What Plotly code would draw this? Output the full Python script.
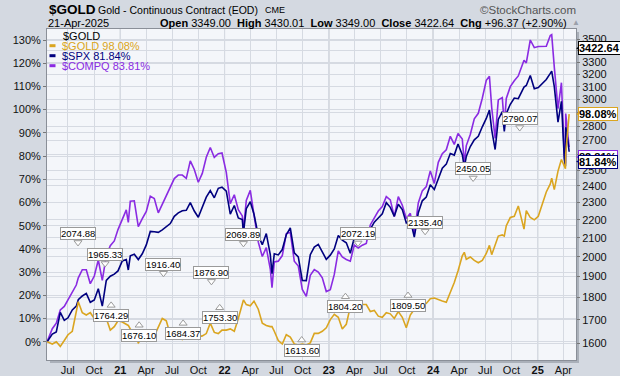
import math
import plotly.graph_objects as go

# ---------------- data (percent change since start) ----------------
dates = [
    "2020-04-20", "2020-05-08", "2020-05-22", "2020-06-05", "2020-06-19", "2020-07-02", "2020-07-17",
    "2020-07-31", "2020-08-07", "2020-08-21", "2020-09-04", "2020-09-18", "2020-10-02", "2020-10-16",
    "2020-10-30", "2020-11-13", "2020-11-27", "2020-12-11", "2020-12-24",
    "2021-01-08", "2021-01-22", "2021-01-29", "2021-02-05", "2021-02-19", "2021-03-05", "2021-03-19",
    "2021-04-02", "2021-04-16", "2021-04-30", "2021-05-14", "2021-05-28", "2021-06-11", "2021-06-25",
    "2021-07-09", "2021-07-23", "2021-08-06", "2021-08-20", "2021-09-03", "2021-09-17", "2021-10-01",
    "2021-10-15", "2021-10-29", "2021-11-12", "2021-11-26", "2021-12-10", "2021-12-23",
    "2022-01-07", "2022-01-21", "2022-02-04", "2022-02-18", "2022-03-04", "2022-03-08", "2022-03-18",
    "2022-04-01", "2022-04-14", "2022-04-29", "2022-05-13", "2022-05-27", "2022-06-10", "2022-06-16",
    "2022-06-24", "2022-07-08", "2022-07-22", "2022-08-05", "2022-08-19", "2022-09-02", "2022-09-16",
    "2022-09-30", "2022-10-14", "2022-10-28", "2022-11-11", "2022-11-25", "2022-12-09", "2022-12-23",
    "2023-01-06", "2023-01-20", "2023-02-03", "2023-02-17", "2023-03-03", "2023-03-17", "2023-03-31",
    "2023-04-14", "2023-04-28", "2023-05-12", "2023-05-26", "2023-06-09", "2023-06-23", "2023-07-07",
    "2023-07-21", "2023-08-04", "2023-08-18", "2023-09-01", "2023-09-15", "2023-09-29", "2023-10-13",
    "2023-10-27", "2023-11-10", "2023-11-24", "2023-12-08", "2023-12-22",
    "2024-01-05", "2024-01-19", "2024-02-02", "2024-02-16", "2024-03-01", "2024-03-15", "2024-03-28",
    "2024-04-12", "2024-04-19", "2024-04-26", "2024-05-10", "2024-05-24", "2024-06-07", "2024-06-21",
    "2024-07-05", "2024-07-16", "2024-07-24", "2024-08-05", "2024-08-16", "2024-08-30", "2024-09-06",
    "2024-09-13", "2024-09-27", "2024-10-11", "2024-10-25", "2024-11-14", "2024-11-22", "2024-12-06",
    "2024-12-20",
    "2025-01-03", "2025-01-17", "2025-01-31", "2025-02-14", "2025-02-19", "2025-02-28", "2025-03-13",
    "2025-03-25", "2025-04-04", "2025-04-08", "2025-04-09", "2025-04-17", "2025-04-21",
]

gold_pct = [
    0, -1.0, 0.0, -2.0, 0.5, 3.0, 4.5, 13.0, 17.2, 12.5, 11.5, 12.5, 10.0, 10.5, 9.0, 10.0, 5.0, 6.5, 9.0,
    8.5, 7.5, 7.0, 5.5, 3.5, -0.5, 1.5, 0.5, 2.5, 2.5, 6.5, 10.0, 9.0, 3.0, 4.5, 4.5, 1.0, 3.0, 5.5, 2.0,
    2.0, 2.5, 3.5, 8.0, 4.0, 3.5, 5.0,
    5.0, 5.5, 4.5, 10.0, 15.5, 18.0, 16.0, 15.5, 17.5, 14.0, 8.0, 7.0, 6.5, 6.5, 4.5, 0.5, -1.0, 3.0,
    2.0, -1.0, -1.4, -1.0, -1.4, -0.5, 3.6, 3.6, 4.5, 6.0,
    9.5, 11.8, 10.5, 5.5, 7.5, 15.0, 16.5, 16.5, 16.0, 16.0, 13.0, 13.5, 11.0, 10.5, 12.5, 12.0, 10.0,
    13.0, 10.5, 6.0, 11.5, 14.0, 13.5, 17.0, 16.5, 18.5,
    18.8, 18.0, 17.5, 17.0, 21.0, 25.5, 30.5, 37.0, 38.5, 35.5, 36.5, 35.0, 34.0, 35.0, 38.0, 41.5,
    37.5, 42.0, 45.5, 46.0, 45.5, 50.0, 53.5, 54.0, 58.5, 48.5, 56.5, 53.5, 52.5,
    54.0, 59.0, 64.5, 68.0, 70.5, 65.5, 73.5, 78.5, 75.5, 74.5, 81.0, 92.5, 98.08,
]

spx_pct = [
    0, 3.3, 4.2, 12.6, 9.2, 10.3, 13.7, 15.3, 18.1, 19.7, 20.8, 17.0, 18.0, 22.8, 15.3, 26.4, 28.2, 29.1, 30.5,
    34.8, 35.4, 30.9, 37.0, 37.7, 35.4, 37.9, 41.7, 47.5, 47.4, 47.1, 48.2, 49.7, 50.9, 54.0, 55.5, 56.4,
    56.6, 59.9, 56.3, 53.6, 57.6, 62.3, 65.1, 62.0, 66.1, 66.6,
    64.9, 55.0, 58.7, 53.3, 52.6, 47.0, 57.3, 60.3, 54.9, 45.7, 41.8, 46.6, 37.5, 29.3, 37.9, 37.4, 39.7,
    46.1, 49.0, 38.3, 36.5, 26.4, 26.3, 37.5, 40.8, 41.9, 38.7, 35.5,
    37.3, 40.0, 45.8, 43.8, 42.6, 38.1, 44.8, 45.9, 47.0, 45.4, 48.2, 51.5, 53.3, 55.1, 59.9, 57.9, 54.0,
    59.2, 56.9, 51.2, 52.5, 45.1, 55.6, 60.7, 62.3, 67.6,
    65.6, 70.6, 74.8, 76.5, 81.1, 80.4, 85.2, 80.6, 75.1, 79.8, 84.1, 87.0, 88.5, 92.6, 96.2, 99.8, 91.3,
    82.8, 95.8, 99.1, 90.6, 98.3, 102.3, 105.0, 104.7, 109.7, 110.4, 114.7, 109.0,
    109.5, 111.4, 113.0, 115.6, 116.6, 109.9, 94.6, 103.6, 78.9, 75.6, 92.4, 86.2, 81.84,
]

compq_pct = [
    0, 5.6, 8.0, 13.7, 15.2, 18.2, 21.6, 24.4, 27.5, 31.0, 31.0, 25.0, 28.3, 35.2, 26.4, 37.0, 41.4, 43.4, 48.3,
    52.9, 56.8, 51.4, 60.5, 60.7, 49.6, 53.0, 56.1, 62.7, 61.7, 55.5, 59.2, 62.9, 66.3, 70.3, 71.8, 71.8,
    70.4, 77.9, 74.2, 68.7, 72.5, 79.5, 83.7, 79.4, 81.0, 81.3,
    73.0, 59.5, 63.3, 56.9, 54.2, 48.2, 60.9, 65.2, 54.6, 42.9, 36.7, 40.5, 31.3, 23.3, 34.4, 34.7, 37.1,
    46.6, 47.1, 34.7, 32.6, 22.5, 19.5, 28.6, 31.1, 30.0, 27.5, 21.6,
    22.4, 29.0, 39.1, 36.5, 35.4, 34.7, 41.6, 40.4, 41.6, 42.3, 50.3, 53.6, 56.3, 58.2, 62.5, 61.1, 53.9,
    62.5, 58.8, 53.1, 55.3, 46.4, 59.8, 65.0, 66.8, 73.6,
    68.2, 77.3, 81.0, 82.7, 88.5, 85.0, 89.7, 87.3, 77.0, 84.5, 89.3, 96.0, 98.4, 104.9, 112.6, 114.4,
    100.8, 87.6, 104.2, 105.2, 93.3, 104.8, 109.9, 112.4, 114.5, 121.3, 120.1, 130.0, 126.7,
    127.2, 127.3, 127.3, 131.9, 132.3, 118.3, 100.4, 111.6, 80.5, 76.8, 98.3, 88.6, 83.81,
]

# gold price pivot labels (high "H" / low "L")
pivot_dates = ["2020-08-06", "2020-11-09", "2020-11-30", "2021-03-08", "2021-06-01", "2021-08-09",
               "2021-11-16", "2021-12-15", "2022-03-08", "2022-09-28", "2023-02-28", "2023-04-13",
               "2023-10-05", "2023-12-04", "2024-05-20", "2024-10-30"]
pivot_prices = [2074.88, 1965.33, 1764.29, 1676.10, 1916.40, 1684.37, 1876.90, 1753.30, 2069.89,
                1613.60, 1804.20, 2072.19, 1809.50, 2135.40, 2450.05, 2790.07]
pivot_kind = ["H", "H", "L", "L", "H", "L", "H", "L", "H", "L", "L", "H", "L", "H", "H", "H"]

pct_ticks = list(range(0, 131, 10))
price_ticks = list(range(1600, 3501, 100))
x_tick_dates = ["2020-07-01", "2020-10-01", "2021-01-01", "2021-04-01", "2021-07-01", "2021-10-01",
                "2022-01-01", "2022-04-01", "2022-07-01", "2022-10-01", "2023-01-01", "2023-04-01",
                "2023-07-01", "2023-10-01", "2024-01-01", "2024-04-01", "2024-07-01", "2024-10-01",
                "2025-01-01", "2025-04-01"]
x_tick_text = ["Jul", "Oct", "<b>21</b>", "Apr", "Jul", "Oct", "<b>22</b>", "Apr", "Jul", "Oct",
               "<b>23</b>", "Apr", "Jul", "Oct", "<b>24</b>", "Apr", "Jul", "Oct", "<b>25</b>", "Apr"]
year_lines = ["2021-01-01", "2022-01-01", "2023-01-01", "2024-01-01", "2025-01-01"]

last_close = 3422.64
end_labels = [("83.81%", 79.6, "#8A2BE2"), ("81.84%", 77.6, "#00007F"), ("98.08%", 98.08, "#DAA520")]

# ---------------- styling ----------------
W, H = 620, 376
L, R, T, B = 47, 44, 29, 16
PW, PH = W - L - R, H - T - B
FONT = "Liberation Sans, Arial, sans-serif"
GOLD, NAVY, PURPLE = "#DAA520", "#00007F", "#8A2BE2"
BG_OUT, BG_PLOT = "#d4d9e1", "#f4f6fa"
GRID, YEAR_GRID, FRAME = "#d6dae2", "#a9aeb7", "#8a8f98"


def fx(p):
    return (p - L) / PW


def fy(p):
    return (H - B - p) / PH


fig = go.Figure()
for vals, color in [(compq_pct, PURPLE), (spx_pct, NAVY), (gold_pct, GOLD)]:
    fig.add_trace(go.Scatter(x=dates, y=vals, mode="lines", line=dict(color=color, width=1.6),
                             hoverinfo="skip", showlegend=False))

fig.add_trace(go.Scatter(
    x=pivot_dates, y=pivot_prices, yaxis="y2", mode="markers", hoverinfo="skip", showlegend=False,
    marker=dict(symbol=["triangle-down" if k == "H" else "triangle-up" for k in pivot_kind],
                size=7, color="white", line=dict(color="#9a9a9a", width=1))))

ann = []
for d, p, k in zip(pivot_dates, pivot_prices, pivot_kind):
    ann.append(dict(x=d, y=math.log10(p), xref="x", yref="y2", text=f"{p:.2f}", showarrow=False,
                    yshift=9 if k == "H" else -10, font=dict(size=9.5, color="#000", family=FONT),
                    bgcolor="white", bordercolor="#9a9a9a", borderwidth=1, borderpad=0))


def right_tag(text, yval, yref, col):
    # pointer
    ann.append(dict(x=1, xref="paper", y=yval, yref=yref, text="", showarrow=True, ax=5, ay=0,
                    arrowhead=2, arrowsize=1, arrowwidth=1, arrowcolor=col, standoff=0))
    # box
    ann.append(dict(x=1, xref="paper", y=yval, yref=yref, text=f"<b>{text}</b>", showarrow=False,
                    xanchor="left", xshift=2, font=dict(size=11, color="#000", family=FONT),
                    bgcolor="white", bordercolor=col, borderwidth=1, borderpad=0))


right_tag("3422.64", math.log10(last_close), "y2", "#000")
for txt, yv, col in end_labels:
    right_tag(txt, yv, "y", col)

# header
hdr = [
    ("<b>$GOLD</b>", 47, 9.5, 13.5, "#000", "left"),
    ("Gold - Continuous Contract (EOD)", 95.5, 9.5, 10.5, "#000", "left"),
    ("CME", 263, 10.5, 9, "#000", "left"),
    ("©StockCharts.com", 578, 9.5, 11.5, "#555", "right"),
    ("21-Apr-2025", 45.5, 23, 11, "#000", "left"),
    ("<b>Open</b> 3349.00  <b>High</b> 3430.01  <b>Low</b> 3349.00  <b>Close</b> 3422.64  "
     "<b>Chg</b> +96.37 (+2.90%)", 569, 23, 11, "#000", "right"),
    ("▲", 575.5, 23, 8, "#9aa0aa", "center"),
    ("$GOLD", 61, 35.7, 11, "#000", "left"),
    ("$GOLD 98.08%", 59.5, 45.7, 11, GOLD, "left"),
    ("$SPX 81.84%", 59.5, 55.7, 11, NAVY, "left"),
    ("$COMPQ 83.81%", 59.5, 65.7, 11, PURPLE, "left"),
]
for txt, xp, yp, sz, col, anc in hdr:
    ann.append(dict(x=fx(xp), y=fy(yp), xref="paper", yref="paper", text=txt, showarrow=False,
                    xanchor=anc, yanchor="middle", font=dict(size=sz, color=col, family=FONT)))

shapes = []
for yp, col in [(45.7, GOLD), (55.7, NAVY), (65.7, PURPLE)]:
    shapes.append(dict(type="line", xref="paper", yref="paper", x0=fx(49.5), x1=fx(55.5),
                       y0=fy(yp), y1=fy(yp), line=dict(color=col, width=3)))
for d in year_lines:
    shapes.append(dict(type="line", xref="x", yref="paper", x0=d, x1=d, y0=0, y1=1,
                       line=dict(color=YEAR_GRID, width=1), layer="between"))
# frame shadow
shapes.append(dict(type="rect", xref="paper", yref="paper", x0=fx(576), x1=fx(579), y0=fy(363), y1=fy(32),
                   line=dict(width=0), fillcolor="#aab0b9", layer="below"))
shapes.append(dict(type="rect", xref="paper", yref="paper", x0=fx(50), x1=fx(579), y0=fy(363), y1=fy(360),
                   line=dict(width=0), fillcolor="#aab0b9", layer="below"))

fig.update_layout(
    width=W, height=H, margin=dict(l=L, r=R, t=T, b=B, autoexpand=False),
    paper_bgcolor=BG_OUT, plot_bgcolor=BG_PLOT, showlegend=False,
    font=dict(family=FONT, size=11, color="#111"),
    xaxis=dict(type="date", range=["2020-04-19 12:00", "2025-05-15"], tickmode="array",
               tickvals=x_tick_dates, ticktext=x_tick_text, showgrid=True, gridcolor=GRID, gridwidth=1,
               showline=True, mirror=True, linecolor=FRAME, linewidth=1, ticks="", zeroline=False,
               automargin=False, tickfont=dict(size=11, color="#111"), fixedrange=True),
    yaxis=dict(range=[-7.89, 134.74], tickmode="array", tickvals=pct_ticks,
               ticktext=[f"{v}%" for v in pct_ticks], ticks="outside", ticklen=3, tickcolor="#777",
               showgrid=True, gridcolor=GRID, gridwidth=1, showline=True, mirror=True, linecolor=FRAME,
               linewidth=1, zeroline=False, automargin=False, tickfont=dict(size=11, color="#111")),
    yaxis2=dict(type="log", overlaying="y", side="right", range=[3.18543, 3.55592], tickmode="array",
                tickvals=price_ticks, ticktext=[str(v) for v in price_ticks], ticks="outside", ticklen=3,
                tickcolor="#777", showgrid=True, gridcolor=GRID, gridwidth=1, showline=False,
                zeroline=False, automargin=False, tickfont=dict(size=11, color="#111")),
    annotations=ann, shapes=shapes,
)

fig.write_html("out.html", config={"displayModeBar": False, "staticPlot": True},
               post_script="document.body.style.margin='0';document.body.style.overflow='hidden';")
